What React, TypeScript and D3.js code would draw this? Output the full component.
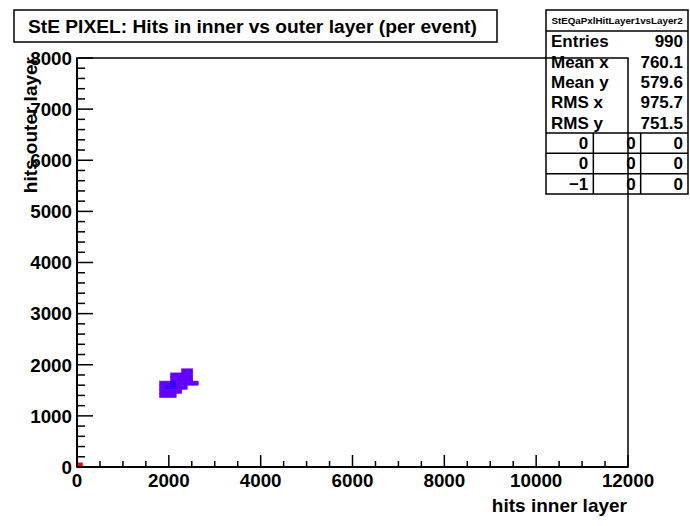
import React from "react";
import * as d3 from "d3";

// ---- data ----
const xDomain: [number, number] = [0, 12000];
const yDomain: [number, number] = [0, 8000];
const xBinWidth = 120;
const yBinWidth = 80;

// lower edges of filled bins (x, y) and their contents
const cellX = [
  0,
  2280, 2400,
  2040, 2160, 2280, 2400,
  2040, 2160, 2280, 2400,
  1800, 1920, 2040, 2160, 2280, 2400, 2520,
  1800, 1920, 2040, 2160, 2280,
  1800, 1920, 2040, 2160,
  1800, 1920, 2040,
];
const cellY = [
  0,
  1840, 1840,
  1760, 1760, 1760, 1760,
  1680, 1680, 1680, 1680,
  1600, 1600, 1600, 1600, 1600, 1600, 1600,
  1520, 1520, 1520, 1520, 1520,
  1440, 1440, 1440, 1440,
  1360, 1360, 1360,
];
const cellCount = [
  25,
  1, 1,
  1, 1, 1, 1,
  1, 1, 1, 1,
  1, 1, 2, 1, 1, 1, 1,
  1, 2, 2, 1, 1,
  1, 1, 1, 1,
  1, 1, 1,
];

const xTicks = [0, 2000, 4000, 6000, 8000, 10000, 12000];
const xMinorStep = 500;
const yTicks = [0, 1000, 2000, 3000, 4000, 5000, 6000, 7000, 8000];
const yMinorStep = 200;

const titleText = "StE PIXEL: Hits in inner vs outer layer (per event)";
const xTitle = "hits inner layer";
const yTitle = "hits outer layer";

const statsName = "StEQaPxlHitLayer1vsLayer2";
const statLabels = ["Entries", "Mean x", "Mean y", "RMS x", "RMS y"];
const statValues = ["990", "760.1", "579.6", "975.7", "751.5"];
const tableValues = [
  ["0", "0", "0"],
  ["0", "0", "0"],
  ["\u22121", "0", "0"],
];

const FONT = "'Liberation Sans', Arial, Helvetica, sans-serif";

export default function App() {
  const W = 690;
  const H = 526;
  const left = 77, right = 628, top = 58, bottom = 467;
  const x = d3.scaleLinear().domain(xDomain).range([left, right]);
  const y = d3.scaleLinear().domain(yDomain).range([bottom, top]);

  const zmax = d3.max(cellCount) as number;
  const color = (c: number) => {
    const i = Math.min(49, Math.floor((c / zmax) * 50));
    const hue = 280 - (i + 1) * 5.6;
    return d3.hsl(hue, 1, 0.5).formatHex();
  };

  const xMinor = d3
    .range(xDomain[0], xDomain[1] + 1, xMinorStep)
    .filter((v) => !xTicks.includes(v));
  const yMinor = d3
    .range(yDomain[0], yDomain[1] + 1, yMinorStep)
    .filter((v) => !yTicks.includes(v));

  // stats box geometry
  const sx0 = 546, sx1 = 688, sy0 = 10, sHead = 31, sy1 = 194;
  const rowH = (sy1 - sHead) / (statLabels.length + tableValues.length);
  const colW = (sx1 - sx0) / 3;
  const tableTop = sHead + statLabels.length * rowH;

  return (
    <svg
      width={W}
      height={H}
      style={{ position: "absolute", left: 0, top: 0, background: "#fff" }}
      fontFamily={FONT}
      fontWeight="bold"
    >
      <rect x={0} y={0} width={W} height={H} fill="#fff" />

      {/* cells */}
      {cellX.map((cx, i) => {
        const cy = cellY[i];
        const x0 = x(cx), x1 = x(cx + xBinWidth);
        const y0 = y(cy + yBinWidth), y1 = y(cy);
        const col = color(cellCount[i]);
        return (
          <rect
            key={i}
            x={x0}
            y={y0}
            width={x1 - x0}
            height={y1 - y0}
            fill={col}
            stroke={col}
            strokeWidth={0.6}
          />
        );
      })}

      {/* title box */}
      <rect x={14} y={10} width={483} height={32} fill="#fff" stroke="#000" strokeWidth={1.5} />
      <text x={28} y={32.5} fontSize={19.2} fill="#000">
        {titleText}
      </text>

      {/* stats box */}
      <rect x={sx0} y={sy0} width={sx1 - sx0} height={sy1 - sy0} fill="#fff" stroke="#000" strokeWidth={1.5} />
      <line x1={sx0} x2={sx1} y1={sHead} y2={sHead} stroke="#000" strokeWidth={1.5} />
      <text x={(sx0 + sx1) / 2} y={24} fontSize={9.8} textAnchor="middle">
        {statsName}
      </text>
      {statLabels.map((lab, i) => {
        const cy = sHead + (i + 0.5) * rowH;
        return (
          <g key={lab}>
            <text x={551} y={cy + 6} fontSize={17}>
              {lab}
            </text>
            <text x={sx1 - 5} y={cy + 6} fontSize={17} textAnchor="end">
              {statValues[i]}
            </text>
          </g>
        );
      })}
      <line x1={sx0} x2={sx1} y1={tableTop} y2={tableTop} stroke="#000" strokeWidth={1.5} />
      {tableValues.map((row, r) => {
        const ry = tableTop + r * rowH;
        return (
          <g key={r}>
            {r > 0 && <line x1={sx0} x2={sx1} y1={ry} y2={ry} stroke="#000" strokeWidth={1.5} />}
            {row.map((v, c) => (
              <text key={c} x={sx0 + (c + 1) * colW - 5} y={ry + rowH / 2 + 6} fontSize={17} textAnchor="end">
                {v}
              </text>
            ))}
          </g>
        );
      })}
      {[1, 2].map((c) => (
        <line key={c} x1={sx0 + c * colW} x2={sx0 + c * colW} y1={tableTop} y2={sy1} stroke="#000" strokeWidth={1.5} />
      ))}

      {/* frame */}
      <rect x={left} y={top} width={right - left} height={bottom - top} fill="none" stroke="#000" strokeWidth={1.5} />
      <line x1={left} x2={right} y1={bottom} y2={bottom} stroke="#000" strokeWidth={2} />
      <line x1={left} x2={left} y1={top} y2={bottom} stroke="#000" strokeWidth={2} />

      {/* x axis ticks */}
      {xTicks.map((t) => (
        <g key={"xt" + t}>
          <line x1={x(t)} x2={x(t)} y1={bottom} y2={bottom - 12} stroke="#000" strokeWidth={1.5} />
          <text x={x(t)} y={486.7} fontSize={18.8} textAnchor="middle">
            {t}
          </text>
        </g>
      ))}
      {xMinor.map((t) => (
        <line key={"xm" + t} x1={x(t)} x2={x(t)} y1={bottom} y2={bottom - 6} stroke="#000" strokeWidth={1.5} />
      ))}

      {/* y axis ticks */}
      {yTicks.map((t) => (
        <g key={"yt" + t}>
          <line x1={left} x2={left + 16} y1={y(t)} y2={y(t)} stroke="#000" strokeWidth={1.5} />
          <text x={72} y={y(t) + 6.8} fontSize={18.8} textAnchor="end">
            {t}
          </text>
        </g>
      ))}
      {yMinor.map((t) => (
        <line key={"ym" + t} x1={left} x2={left + 8} y1={y(t)} y2={y(t)} stroke="#000" strokeWidth={1.5} />
      ))}

      {/* axis titles */}
      <text x={627} y={512} fontSize={19} textAnchor="end">
        {xTitle}
      </text>
      <text transform="translate(37,57) rotate(-90)" fontSize={19} textAnchor="end">
        {yTitle}
      </text>
    </svg>
  );
}
